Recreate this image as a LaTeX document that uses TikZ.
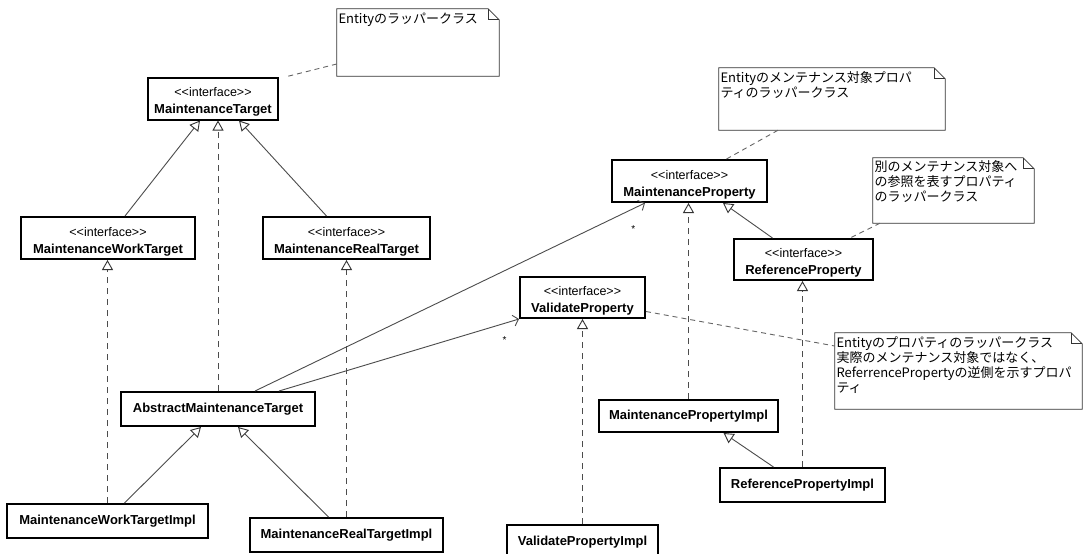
\documentclass[tikz,border=0pt]{standalone}
\usepackage{fontspec}
\setmainfont{Liberation Sans}
\newfontfamily\plainsans{Liberation Sans}[Ligatures=TeXOff]
\newfontfamily\jpfont{Noto Sans CJK JP}
\usetikzlibrary{arrows.meta,calc}

% UML note outline with a folded top-right corner
\newcommand\notefold[1]{%
  \draw[noteframe] (#1.south west) -- (#1.north west) -- ([xshift=-11pt]#1.north east)
     -- ([yshift=-11pt]#1.north east) -- (#1.south east) -- cycle;
  \draw[noteframe] ([xshift=-11pt]#1.north east) -- ([xshift=-11pt,yshift=-11pt]#1.north east)
     -- ([yshift=-11pt]#1.north east);}

\begin{document}
\begin{tikzpicture}[x=1pt,y=-1pt,
  cls/.style={draw=black, line width=2pt, fill=white, rectangle, inner sep=2pt,
              font=\fontsize{13}{15}\selectfont\bfseries},
  iface/.style={cls, minimum height=42pt, text height=30pt, text depth=0pt},
  impl/.style={cls, minimum height=34pt},
  stereo/.style={anchor=base, inner sep=0pt, font=\plainsans\fontsize{12.5}{14}\selectfont},
  notebox/.style={rectangle, draw=none, fill=white, inner sep=0pt},
  noteframe/.style={draw=black!80, line width=0.8pt},
  notetext/.style={anchor=north west, inner sep=0pt, align=left,
                   font=\jpfont\fontsize{13}{15}\selectfont},
  conn/.style={draw=black!70, line width=0.9pt},
  gen/.style={conn, -{Triangle[open, length=10pt, width=11pt, fill=white, color=black!80]}},
  real/.style={gen, dash pattern=on 6pt off 5pt},
  assoc/.style={conn, -{Straight Barb[length=5pt, width=11pt]}},
  notelink/.style={draw=black!60, line width=0.9pt, dash pattern=on 5pt off 4pt},
  mult/.style={inner sep=0pt, font=\fontsize{10}{12}\selectfont}
]
\clip (0,0) rectangle (1084,554);
\fill[white] (0,0) rectangle (1084,554);

% ---- target hierarchy ----
\node[iface, minimum width=130pt] (mt) at (213,98.5) {MaintenanceTarget};
\node[stereo] (mt-s) at ([yshift=2pt]mt.center) {<<interface>>};

\node[iface, minimum width=174pt] (mwt) at (108,238) {MaintenanceWorkTarget};
\node[stereo] (mwt-s) at ([yshift=2pt]mwt.center) {<<interface>>};

\node[iface, minimum width=167pt] (mrt) at (346.5,238) {MaintenanceRealTarget};
\node[stereo] (mrt-s) at ([yshift=2pt]mrt.center) {<<interface>>};

\node[impl, minimum width=194pt] (amt) at (218,409) {AbstractMaintenanceTarget};
\node[impl, minimum width=201pt] (mwti) at (107.5,521) {MaintenanceWorkTargetImpl};
\node[impl, minimum width=193pt] (mrti) at (346.5,535) {MaintenanceRealTargetImpl};

% ---- property hierarchy ----
\node[iface, minimum width=155pt] (mp) at (689.5,181) {MaintenanceProperty};
\node[stereo] (mp-s) at ([yshift=2pt]mp.center) {<<interface>>};

\node[iface, minimum width=139pt, minimum height=41pt] (rp) at (803.5,259.5) {ReferenceProperty};
\node[stereo] (rp-s) at ([yshift=2pt]rp.center) {<<interface>>};

\node[iface, minimum width=125pt, minimum height=41pt] (vp) at (582.5,297.5) {ValidateProperty};
\node[stereo] (vp-s) at ([yshift=2pt]vp.center) {<<interface>>};

\node[impl, minimum width=179pt, minimum height=32pt] (mpi) at (688.5,416) {MaintenancePropertyImpl};
\node[impl, minimum width=165pt] (rpi) at (802.5,485) {ReferencePropertyImpl};
\node[impl, minimum width=151pt] (vpi) at (582.5,542) {ValidatePropertyImpl};

% ---- notes ----
\node[notebox, minimum width=162pt, minimum height=67pt] (n1) at (418,42.5) {};
\notefold{n1}
\node[notetext] (n1-t) at ([xshift=1.5pt,yshift=-4pt]n1.north west) {Entityのラッパークラス};

\node[notebox, minimum width=226pt, minimum height=62pt] (n2) at (832,99) {};
\notefold{n2}
\node[notetext] (n2-t) at ([xshift=1.5pt,yshift=-4pt]n2.north west)
  {Entityのメンテナンス対象プロパ\\ティのラッパークラス};

\node[notebox, minimum width=161pt, minimum height=65pt] (n3) at (953.5,190.5) {};
\notefold{n3}
\node[notetext] (n3-t) at ([xshift=1.5pt,yshift=-3pt]n3.north west)
  {別のメンテナンス対象へ\\の参照を表すプロパティ\\のラッパークラス};

\node[notebox, minimum width=247pt, minimum height=76pt] (n4) at (958.5,371) {};
\notefold{n4}
\node[notetext] (n4-t) at ([xshift=1.5pt,yshift=-4pt]n4.north west)
  {Entityのプロパティのラッパークラス\\実際のメンテナンス対象ではなく、\\ReferrencePropertyの逆側を示すプロパ\\ティ};

% ---- generalizations and realizations ----
\draw[gen] ([xshift=17pt]mwt.north) -- ([xshift=-13pt]mt.south);
\draw[gen] ([xshift=-20pt]mrt.north) -- ([xshift=26pt]mt.south);
\draw[real] (amt.north) -- (amt.north |- mt.south);
\draw[real] (mwti.north) -- (mwti.north |- mwt.south);
\draw[real] (mrti.north) -- (mrti.north |- mrt.south);
\draw[gen] ([xshift=17pt]mwti.north) -- ([xshift=-17pt]amt.south);
\draw[gen] ([xshift=-18pt]mrti.north) -- ([xshift=20pt]amt.south);

\draw[gen] ([xshift=-31pt]rp.north) -- ([xshift=33.5pt]mp.south);
\draw[real] (mpi.north) -- (mpi.north |- mp.south);
\draw[real] (rpi.north) -- (rpi.north |- rp.south);
\draw[gen] ([xshift=-29pt]rpi.north) -- ([xshift=35pt]mpi.south);
\draw[real] (vpi.north) -- (vpi.north |- vp.south);

% ---- associations ----
\draw[assoc] ([xshift=37pt]amt.north) -- node[mult, pos=0.97, yshift=-20pt] (m1) {*} ([xshift=-44.5pt]mp.south);
\draw[assoc] ([xshift=61pt]amt.north) -- node[mult, pos=0.94, yshift=-17pt] (m2) {*} (vp.south west);

% ---- note links ----
\draw[notelink] ([yshift=-21.5pt]n1.west) -- ([xshift=8pt]mt.north east);
\draw[notelink] ([xshift=-54pt]n2.south) -- ([xshift=37pt]mp.north);
\draw[notelink] ([xshift=-73.5pt]n3.south) -- ([xshift=46.5pt]rp.north);
\draw[notelink] ([yshift=-14pt]vp.east) -- ([yshift=25pt]n4.west);
\end{tikzpicture}
\end{document}
